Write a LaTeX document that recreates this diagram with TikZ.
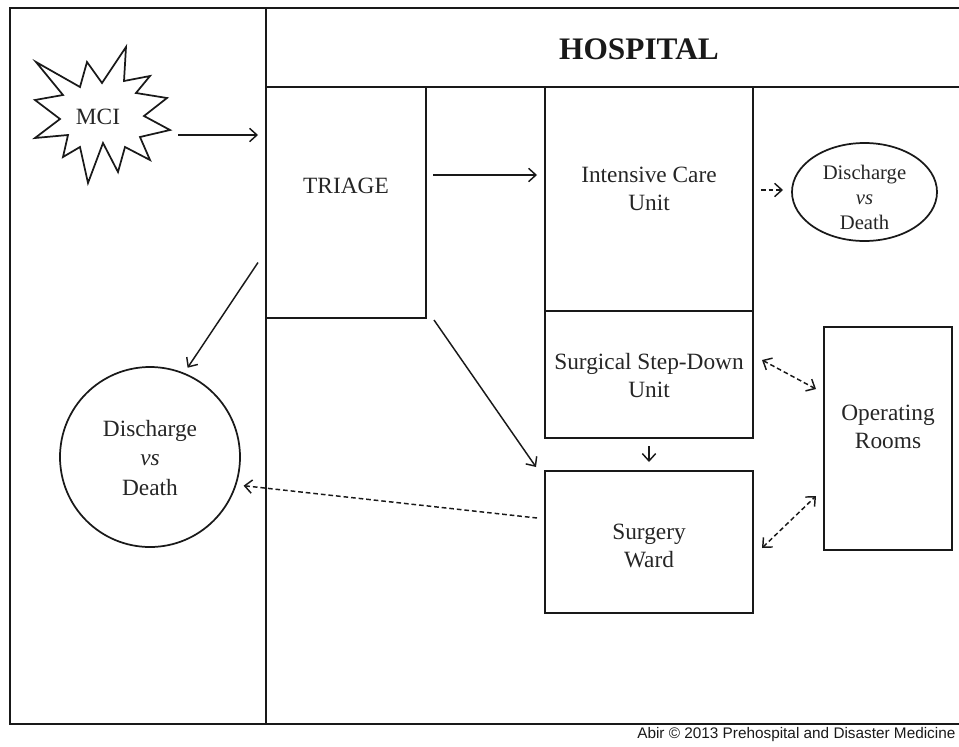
\documentclass[tikz,border=0pt]{standalone}
\usepackage{fontspec}
\setmainfont{Liberation Serif}
\newfontfamily\credfont{Liberation Sans}
\usetikzlibrary{arrows.meta,calc,shapes.geometric}
\begin{document}
\begin{tikzpicture}[x=0.75pt,y=-0.75pt,
  frame/.style={line width=1.5pt, draw=black!90},
  boxnode/.style={draw=black!90, line width=1.4pt, rectangle, inner sep=0pt, outer sep=0pt},
  txt/.style={font=\fontsize{17.5}{21}\selectfont, align=center, inner sep=0pt, text=black!85},
  arr/.style={-{Straight Barb[length=5.5pt,width=10pt]}, line width=1.1pt, draw=black!90},
  darr/.style={arr, dash pattern=on 3.5pt off 2.2pt},
  dbarr/.style={{Straight Barb[length=5.5pt,width=10pt]}-{Straight Barb[length=5.5pt,width=10pt]}, line width=1.1pt, dash pattern=on 3.5pt off 2.2pt, draw=black!90}]
\useasboundingbox (0,0) rectangle (959,746);
% frame
\draw[frame] (959,8) -- (10,8) -- (10,724) -- (959,724);
\draw[frame] (266,8) -- (266,724);
\draw[frame] (266,87) -- (959,87);
\node[font=\fontsize{23.5}{28}\selectfont\bfseries, text=black!90, inner sep=0pt] (hosp) at (639,49) {HOSPITAL};
% MCI star
\draw[line width=1.3pt, draw=black!90] (36,62) -- (80,87) -- (87,62) -- (102,83) -- (126,47) -- (124,81) -- (150,76) -- (136,93) -- (167,98) -- (144,116) -- (170,130) -- (140,137) -- (150,160) -- (125,147) -- (118,172) -- (103,143) -- (88,183) -- (80,147) -- (63,157) -- (68,135) -- (35,138) -- (60,119) -- (35,100) -- (63,95) -- cycle;
\node[txt] (mci) at (98,117) {MCI};
% boxes
\node[boxnode, minimum width=160*0.75pt, minimum height=231*0.75pt] (triage) at (346,202.5) {};
\node[txt] (triaget) at (346,186) {TRIAGE};
\node[boxnode, minimum width=208*0.75pt, minimum height=224*0.75pt] (icu) at (649,199) {};
\node[txt] (icut) at (649,189) {Intensive Care\\Unit};
\node[boxnode, minimum width=208*0.75pt, minimum height=127*0.75pt] (step) at (649,374.5) {};
\node[txt] (stept) at (649,376) {Surgical Step-Down\\Unit};
\node[boxnode, minimum width=208*0.75pt, minimum height=142*0.75pt] (ward) at (649,542) {};
\node[txt] (wardt) at (649,546) {Surgery\\Ward};
\node[boxnode, minimum width=128*0.75pt, minimum height=223*0.75pt] (or) at (888,438.5) {};
\node[txt] (ort) at (888,427) {Operating\\Rooms};
\node[draw=black!90, line width=1.3pt, ellipse, minimum width=145*0.75pt, minimum height=98*0.75pt, inner sep=0pt, outer sep=0pt] (disch) at (864.5,192) {};
\node[txt, font=\fontsize{15.5}{18.75}\selectfont] (discht) at (864.5,197) {Discharge\\\textit{vs}\\Death};
\node[draw=black!90, line width=1.3pt, circle, minimum size=180*0.75pt, inner sep=0pt, outer sep=0pt] (circ) at (150,457) {};
\node[txt, font=\fontsize{17.5}{22}\selectfont] (circt) at (150,458) {Discharge\\\textit{vs}\\Death};
% connectors
\coordinate (mciout) at (178,135);
\draw[arr, shorten >=8*0.75pt] (mciout) -- (mciout -| triage.west);
\coordinate (tri1) at (433,175);
\draw[arr, shorten >=8*0.75pt] (tri1) -- (tri1 -| icu.west);
\draw[arr, shorten >=7*0.75pt] ($(triage.west)+(-8,60)$) -- (circ.68);
\draw[arr] ($(triage.south east)+(8,2)$) -- ($(ward.north west)+(-9,-4)$);
\draw[arr] ($(step.south)+(0,8)$) -- ($(ward.north)+(0,-9)$);
\draw[darr, shorten >=8*0.75pt] ($(ward.west)+(-8,-24)$) -- (circ.-18);
\draw[darr] ($(icu.east)+(8,-9)$) -- ($(disch.west)+(-9,-2)$);
\draw[dbarr] ($(step.east)+(9,-14.5)$) -- ($(or.west)+(-8,-49.5)$);
\draw[dbarr] ($(ward.east)+(9,6)$) -- ($(or.west)+(-8,57.5)$);
% credit
\node[font=\credfont\fontsize{11.5}{13}\selectfont, anchor=west, inner sep=0pt, text=black!90] (cred) at (637,735) {Abir \textcopyright{} 2013 Prehospital and Disaster Medicine};
\end{tikzpicture}
\end{document}
